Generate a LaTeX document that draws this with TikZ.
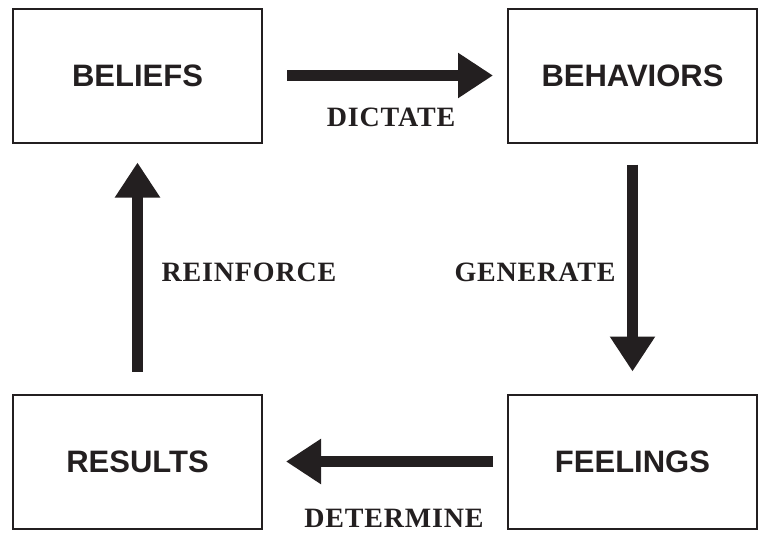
\documentclass[tikz,border=0pt]{standalone}
\usepackage{fontspec}
\setmainfont{Liberation Serif}
\setsansfont{Liberation Sans}
\newfontfamily\verbfont[LetterSpace=3]{Liberation Serif}
\usetikzlibrary{arrows.meta}
\definecolor{ink}{HTML}{231F20}
\tikzstyle{arrow} = [ink, line width=11pt, -{Triangle[length=35pt,width=43pt]}]
\tikzstyle{box} = [rectangle, minimum width=249pt, minimum height=134pt, text centered, draw=ink, text=ink, line width=2pt, font=\sffamily\bfseries\fontsize{31}{37}\selectfont]
\tikzstyle{verb} = [text=ink, inner sep=1pt, font=\verbfont\bfseries\fontsize{28}{32}\selectfont]

\begin{document}
\begin{tikzpicture}[x=1pt, y=-1pt, node distance=495pt]
		\useasboundingbox (0,0) rectangle (758,533);
		\node (beliefs) [box] at (137.5,75.5) {BELIEFS}; 
		\node (behaviors) [box, right of=beliefs] {BEHAVIORS}; 
		\node (results) [box, below of=beliefs, node distance=386pt] {RESULTS}; 
		\node (feelings) [box, below of=behaviors, node distance=386pt] {FEELINGS}; 
		\node (dictate) [verb] at (391,117.5) {DICTATE}; 
		\node (generate) [verb] at (535,272.5) {GENERATE}; 
		\node (reinforce) [verb] at (249,272.5) {REINFORCE}; 
		\node (determine) [verb] at (394,518.5) {DETERMINE}; 
		\draw [arrow, shorten <=24pt, shorten >=14pt] (beliefs) -- (behaviors);
		\draw [arrow, shorten <=21pt, shorten >=22pt] (behaviors) -- (feelings);
		\draw [arrow, shorten <=14pt, shorten >=23pt] (feelings) -- (results);
		\draw [arrow, shorten <=22pt, shorten >=19pt] (results) -- (beliefs);
	\end{tikzpicture}
\end{document}
